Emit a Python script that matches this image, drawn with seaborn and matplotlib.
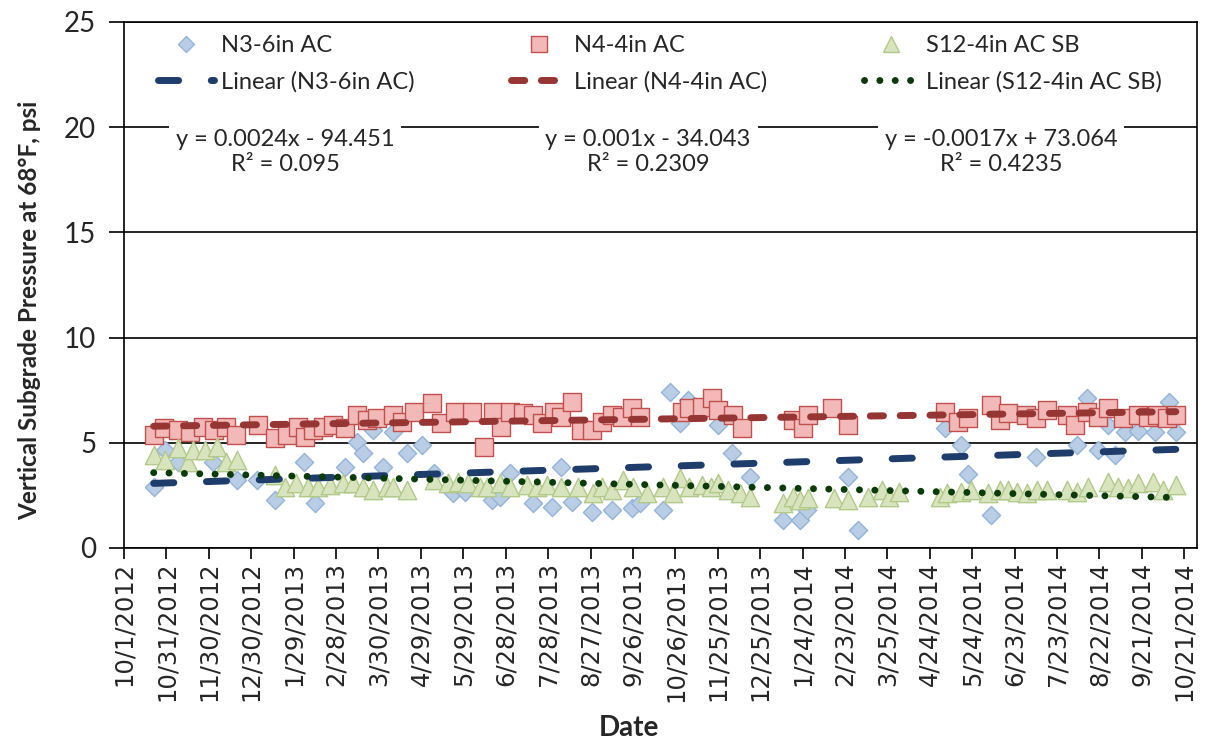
import numpy as np
import pandas as pd
import matplotlib
matplotlib.use("Agg")
import matplotlib.pyplot as plt
import seaborn as sns
from matplotlib.lines import Line2D

sns.set_style("white")
plt.rcParams['font.family'] = ['Lato', 'DejaVu Sans']

# ---------------- data (days since 10/1/2012, psi) ----------------
START = pd.Timestamp("2012-10-01")

n3_day = [21, 29, 38, 63, 80, 94, 107, 127, 135, 156, 165, 169, 176, 183, 190, 200, 211, 219, 233, 241,
          260, 266, 273, 289, 303, 309, 317, 331, 345, 359, 365, 381, 386, 393, 399, 420, 430, 443, 466, 478,
          483, 512, 519, 581, 592, 597, 613, 645, 674, 681, 689, 696, 701, 708, 717, 729, 739, 744]
n3_val = [2.90, 4.66, 4.09, 4.09, 3.23, 3.23, 2.28, 4.09, 2.14, 3.85, 5.04, 4.52, 5.61, 3.85, 5.51, 4.52, 4.90, 3.56, 2.61, 2.66,
          2.28, 2.42, 3.56, 2.14, 1.95, 3.85, 2.19, 1.71, 1.81, 1.90, 2.14, 1.81, 7.41, 5.94, 7.03, 5.85, 4.52, 3.37, 1.33, 1.33,
          1.81, 3.37, 0.86, 5.70, 4.90, 3.52, 1.57, 4.33, 4.90, 7.13, 4.66, 5.85, 4.42, 5.51, 5.56, 5.51, 6.94, 5.51]

n4_day = [21, 28, 38, 47, 56, 64, 72, 79, 95, 107, 115, 123, 128, 134, 141, 148, 156, 165, 172, 179,
          190, 197, 205, 218, 224, 234, 246, 255, 261, 267, 273, 282, 289, 296, 304, 309, 317, 323, 331, 338,
          345, 352, 359, 365, 395, 400, 409, 416, 420, 431, 437, 473, 480, 484, 501, 512, 581, 590, 597, 613,
          620, 625, 638, 645, 653, 667, 673, 681, 689, 696, 707, 717, 724, 731, 738, 744]
n4_val = [5.37, 5.70, 5.61, 5.51, 5.75, 5.61, 5.75, 5.37, 5.85, 5.23, 5.37, 5.75, 5.28, 5.61, 5.75, 5.85, 5.70, 6.32, 6.08, 6.18,
          6.32, 5.99, 6.46, 6.89, 5.94, 6.46, 6.46, 4.80, 6.46, 5.75, 6.46, 6.42, 6.32, 5.94, 6.46, 6.23, 6.94, 5.61, 5.61, 5.99,
          6.32, 6.23, 6.65, 6.23, 6.46, 6.65, 6.70, 7.13, 6.56, 6.32, 5.70, 6.08, 5.70, 6.32, 6.65, 5.85, 6.46, 5.99, 6.18, 6.80,
          6.08, 6.42, 6.32, 6.18, 6.56, 6.32, 5.85, 6.46, 6.23, 6.65, 6.18, 6.32, 6.23, 6.32, 6.18, 6.32]

s12_day = [21, 29, 38, 45, 49, 57, 66, 72, 80, 107, 114, 122, 130, 137, 146, 155, 162, 169, 176, 186,
           190, 200, 219, 229, 236, 243, 252, 257, 266, 273, 285, 292, 299, 309, 321, 332, 338, 345, 353, 360,
           370, 381, 388, 393, 400, 409, 415, 420, 427, 436, 443, 466, 473, 478, 484, 502, 512, 526, 536, 541,
           548, 577, 582, 592, 599, 611, 620, 625, 632, 639, 646, 653, 667, 674, 682, 696, 703, 710, 717, 728,
           735, 744]
s12_val = [4.42, 4.18, 4.75, 4.09, 4.66, 4.66, 4.80, 4.09, 4.18, 3.47, 2.90, 3.09, 2.90, 2.90, 2.99, 3.09, 3.09, 2.90, 2.76, 2.90,
           2.90, 2.76, 3.23, 3.09, 3.14, 3.09, 2.90, 2.90, 3.09, 2.90, 2.99, 2.90, 2.99, 2.90, 2.90, 2.61, 2.90, 2.76, 3.23, 2.90,
           2.61, 2.90, 2.61, 3.33, 2.90, 2.99, 2.90, 3.09, 2.76, 2.61, 2.42, 2.14, 2.42, 2.28, 2.38, 2.38, 2.28, 2.42, 2.76, 2.42,
           2.66, 2.42, 2.61, 2.66, 2.76, 2.61, 2.76, 2.76, 2.66, 2.61, 2.76, 2.76, 2.76, 2.66, 2.90, 3.14, 2.90, 2.85, 3.09, 3.14,
           2.76, 2.99]

series_names = ["N3-6in AC", "N4-4in AC", "S12-4in AC SB"]
equations = ["y = 0.0024x - 94.451\nR\u00b2 = 0.095",
             "y = 0.001x - 34.043\nR\u00b2 = 0.2309",
             "y = -0.0017x + 73.064\nR\u00b2 = 0.4235"]
x_tick_days = list(range(0, 751, 30))
y_ticks = [0, 5, 10, 15, 20, 25]

# ---------------- styles ----------------
c_n3_fill, c_n3_edge = "#b9cde5", "#95b3d7"
c_n4_fill, c_n4_edge = "#f2b9b8", "#c0504d"
c_s12_fill, c_s12_edge = "#d7e4bd", "#b3c98a"
c_n3_trend, c_n4_trend, c_s12_trend = "#1f3d6b", "#963634", "#0b3a0b"

dash_n3 = (2.9, 4.7)
dash_n4 = (1.9, 2.4)
dash_s12 = (0.01, 2.2)

fig = plt.figure(figsize=(12.05, 7.40), dpi=100)
ax = fig.add_axes([124 / 1205, 1 - 548 / 740, (1197 - 124) / 1205, (548 - 22) / 740])

sns.scatterplot(x=n3_day, y=n3_val, marker="D", s=85, color=c_n3_fill, edgecolor=c_n3_edge,
                linewidth=1, ax=ax, zorder=3, legend=False)
sns.scatterplot(x=n4_day, y=n4_val, marker="s", s=160, color=c_n4_fill, edgecolor=c_n4_edge,
                linewidth=1, ax=ax, zorder=3, legend=False)
sns.scatterplot(x=s12_day, y=s12_val, marker="^", s=175, color=c_s12_fill, edgecolor=c_s12_edge,
                linewidth=1, ax=ax, zorder=3, legend=False)

sns.regplot(x=np.array(n3_day, float), y=np.array(n3_val), scatter=False, ci=None, truncate=True, ax=ax,
            line_kws=dict(color=c_n3_trend, lw=5, dashes=dash_n3, dash_capstyle="round", zorder=6))
sns.regplot(x=np.array(n4_day, float), y=np.array(n4_val), scatter=False, ci=None, truncate=True, ax=ax,
            line_kws=dict(color=c_n4_trend, lw=5, dashes=dash_n4, dash_capstyle="round", zorder=6))
sns.regplot(x=np.array(s12_day, float), y=np.array(s12_val), scatter=False, ci=None, truncate=True, ax=ax,
            line_kws=dict(color=c_s12_trend, lw=5, dashes=dash_s12, dash_capstyle="round", zorder=6))

# ---------------- axes ----------------
ax.set_xlim(0, 759)
ax.set_ylim(0, 25)
ax.set_xlabel("")
ax.set_ylabel("")
ax.set_yticks(y_ticks)
ax.set_yticklabels([str(v) for v in y_ticks], fontsize=20)
tick_dates = START + pd.to_timedelta(x_tick_days, unit="D")
ax.set_xticks(x_tick_days)
ax.set_xticklabels([f"{d.month}/{d.day}/{d.year}" for d in tick_dates], rotation=90,
                   fontsize=17.5, family="DejaVu Sans")
ax.tick_params(axis="x", which="major", bottom=True, direction="out",
               length=8, width=1.2, color="black", pad=2)
ax.tick_params(axis="y", which="major", left=True, direction="out",
               length=11, width=1.2, color="black", pad=9)
ax.yaxis.grid(True, color="black", lw=1.2, zorder=0)
ax.set_axisbelow(True)
for sp in ax.spines.values():
    sp.set_color("black")
    sp.set_linewidth(1.2)

# ---------------- legend ----------------
handles = [
    Line2D([], [], marker="D", ls="", ms=8, mfc=c_n3_fill, mec=c_n3_edge),
    Line2D([], [], color=c_n3_trend, lw=5, dashes=dash_n3, dash_capstyle="round"),
    Line2D([], [], marker="s", ls="", ms=11.5, mfc=c_n4_fill, mec=c_n4_edge),
    Line2D([], [], color=c_n4_trend, lw=5, dashes=dash_n4, dash_capstyle="round"),
    Line2D([], [], marker="^", ls="", ms=11.5, mfc=c_s12_fill, mec=c_s12_edge),
    Line2D([], [], color=c_s12_trend, lw=5, dashes=dash_s12, dash_capstyle="round"),
]
labels = [series_names[0], f"Linear ({series_names[0]})",
          series_names[1], f"Linear ({series_names[1]})",
          series_names[2], f"Linear ({series_names[2]})"]
ax.legend(handles, labels, ncol=3, loc="upper left", bbox_to_anchor=(0.0317, 0.9755),
          frameon=False, fontsize=17, handlelength=2.35, handletextpad=0.3,
          columnspacing=4.1, labelspacing=0.65, borderpad=0, borderaxespad=0)

# ---------------- equations ----------------
for xf, txt in zip([0.150, 0.4884, 0.8173], equations):
    ax.text(xf, 0.753, txt, transform=ax.transAxes, ha="center", va="center", fontsize=17,
            linespacing=1.25, zorder=5,
            bbox=dict(facecolor="white", edgecolor="none", pad=5))

# ---------------- titles ----------------
fig.text(30 / 1205, 1 - 310 / 740, "Vertical Subgrade Pressure at 68\u00b0F, psi", rotation=90,
         ha="center", va="center", fontsize=17.5, fontweight="bold")
fig.text(629 / 1205, 1 - 728 / 740, "Date", ha="center", va="center", fontsize=20, fontweight="bold")

fig.savefig("out.png", dpi=100)
